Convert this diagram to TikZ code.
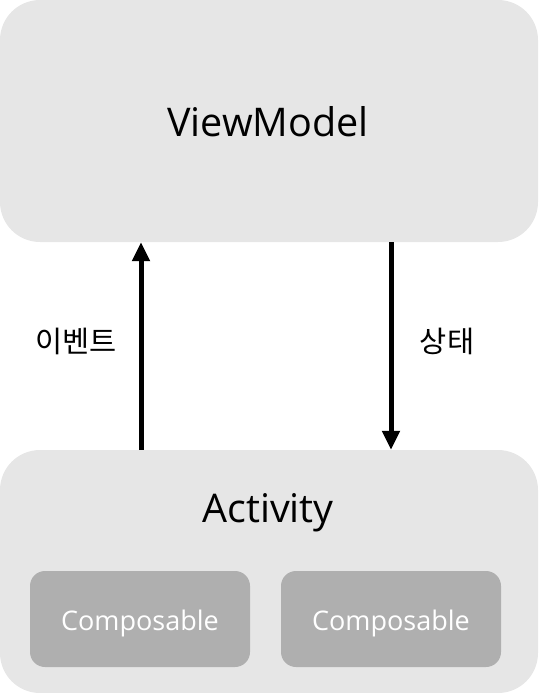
\documentclass[tikz,border=0pt]{standalone}
\usepackage{fontspec}
\setmainfont{Open Sans}
\newfontfamily\kr{Noto Sans CJK KR}
\usetikzlibrary{arrows.meta}
\definecolor{boxlight}{HTML}{E6E6E6}
\definecolor{boxdark}{HTML}{AFAFAF}
\begin{document}
\begin{tikzpicture}[x=1pt,y=-1pt,
  bigbox/.style={fill=boxlight, draw=none, rounded corners=40pt, inner sep=0pt},
  smallbox/.style={fill=boxdark, draw=none, rounded corners=15pt, inner sep=0pt, minimum width=220pt, minimum height=96pt, text=white, font=\fontsize{27}{32}\selectfont},
  arr/.style={line width=5pt, -{Triangle[length=19pt,width=17pt]}},
  lbl/.style={font=\kr\fontsize{29.5}{34}\selectfont, inner sep=0pt}]
\useasboundingbox (0,0) rectangle (538,693);
\node[bigbox, minimum width=538pt, minimum height=242pt] (vm) at (269,121) {};
\node[font=\fontsize{39.5}{46}\selectfont] (vmt) at (268,122) {ViewModel};
\node[bigbox, minimum width=538pt, minimum height=243pt] (act) at (269,571.5) {};
\node[font=\fontsize{39.5}{46}\selectfont] (actt) at (268,513) {Activity};
\node[smallbox] (c1) at (140,619) {\raisebox{-11.5pt}[0pt][0pt]{Composable}};
\node[smallbox] (c2) at (391,619) {\raisebox{-11.5pt}[0pt][0pt]{Composable}};
\coordinate (xl) at (141,0);
\coordinate (xr) at (391,0);
\draw[arr] (xl |- act.north) -- (xl |- vm.south);
\draw[arr] (xr |- vm.south) -- (xr |- act.north);
\node[lbl] (ev) at (76,341) {이벤트};
\node[lbl] (st) at (447,341) {상태};
\end{tikzpicture}
\end{document}
